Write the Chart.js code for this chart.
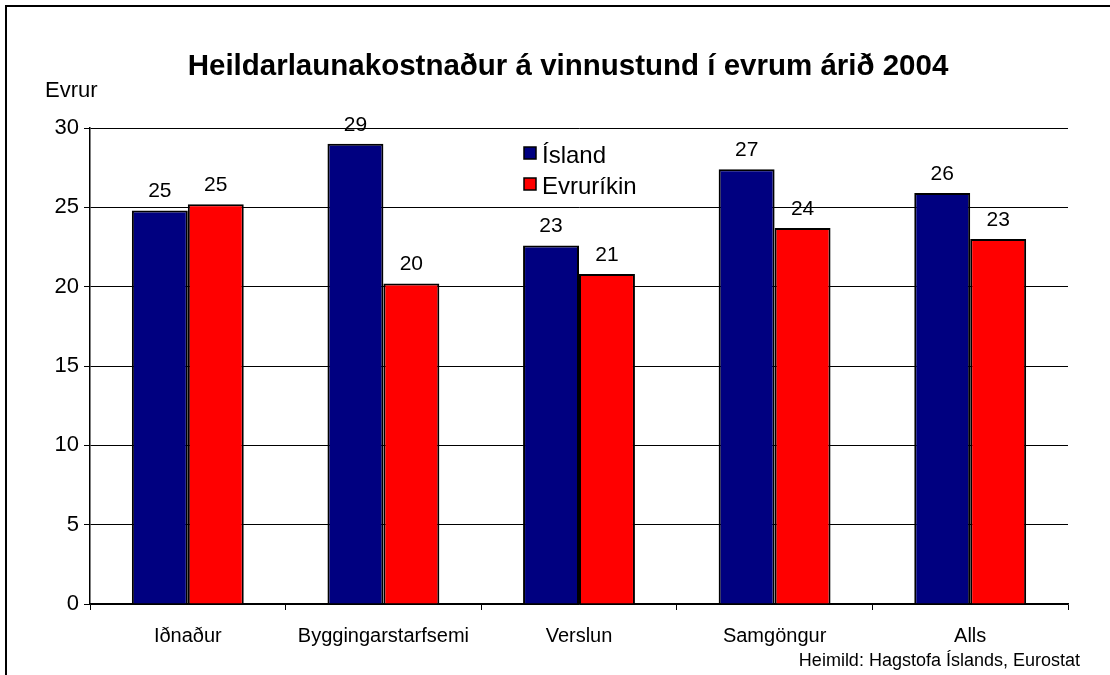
<!DOCTYPE html>
<html>
<head>
<meta charset="utf-8">
<script src="https://cdn.jsdelivr.net/npm/chart.js@4.4.0/dist/chart.umd.min.js"></script>
<style>
  html, body { margin: 0; padding: 0; background: #fff; }
  #wrap { position: relative; width: 1110px; height: 675px; }
  #frame { position: absolute; left: 5px; top: 5px; right: -10px; bottom: -10px; border-left: 2px solid #000; border-top: 2px solid #000; }
  canvas { position: absolute; left: 0; top: 0; }
</style>
</head>
<body>
<div id="wrap">
  <div id="frame"></div>
  <canvas id="c" width="1110" height="675"></canvas>
</div>
<script>
const categories = ["Iðnaður", "Byggingarstarfsemi", "Verslun", "Samgöngur", "Alls"];
const islandValues = [24.8, 29.0, 22.6, 27.4, 25.9];
const evruValues = [25.2, 20.2, 20.8, 23.7, 23.0];
const seriesNames = ["Ísland", "Evruríkin"];
const yTicks = [0, 5, 10, 15, 20, 25, 30];
const titleText = "Heildarlaunakostnaður á vinnustund í evrum árið 2004";
const yAxisLabel = "Evrur";
const sourceText = "Heimild: Hagstofa Íslands, Eurostat";

const FONT = "'Liberation Sans', Arial, sans-serif";

const extrasPlugin = {
  id: 'extras',
  afterDatasetsDraw(chart) {
    const ctx = chart.ctx;
    ctx.save();
    ctx.fillStyle = '#000';
    ctx.font = '21px ' + FONT;
    ctx.textAlign = 'center';
    ctx.textBaseline = 'middle';
    chart.data.datasets.forEach((ds, di) => {
      const meta = chart.getDatasetMeta(di);
      meta.data.forEach((el, i) => {
        ctx.fillText(String(Math.round(ds.data[i])), el.x, el.y - 19);
      });
    });
    ctx.restore();
  },
  afterDraw(chart) {
    const ctx = chart.ctx;
    ctx.save();
    ctx.fillStyle = '#000';
    // title
    ctx.font = 'bold 29.5px ' + FONT;
    ctx.textAlign = 'center';
    ctx.textBaseline = 'middle';
    ctx.fillText(titleText, 568, 67);
    // y axis unit
    ctx.font = '22px ' + FONT;
    ctx.textAlign = 'left';
    ctx.fillText(yAxisLabel, 45, 91);
    // source
    ctx.font = '18px ' + FONT;
    ctx.textAlign = 'right';
    ctx.fillText(sourceText, 1080, 661);
    // legend
    const lx = 524, ly = [147, 178];
    chart.data.datasets.forEach((ds, di) => {
      ctx.fillStyle = ds.backgroundColor;
      ctx.fillRect(lx, ly[di], 12, 12);
      ctx.strokeStyle = '#000';
      ctx.lineWidth = 1.5;
      ctx.strokeRect(lx, ly[di], 12, 12);
      ctx.fillStyle = '#000';
      ctx.font = '24px ' + FONT;
      ctx.textAlign = 'left';
      ctx.textBaseline = 'middle';
      ctx.fillText(ds.label, lx + 18, ly[di] + 9);
    });
    ctx.restore();
  }
};

new Chart(document.getElementById('c'), {
  type: 'bar',
  data: {
    labels: categories,
    datasets: [
      { label: seriesNames[0], data: islandValues, backgroundColor: '#000080', borderColor: '#000', borderWidth: 2, borderSkipped: 'bottom' },
      { label: seriesNames[1], data: evruValues, backgroundColor: '#ff0000', borderColor: '#000', borderWidth: 2, borderSkipped: 'bottom' }
    ]
  },
  options: {
    responsive: false,
    animation: false,
    devicePixelRatio: 1,
    layout: { padding: { top: 128, right: 42, left: 0, bottom: 0 } },
    plugins: { legend: { display: false }, title: { display: false }, tooltip: { enabled: false } },
    datasets: { bar: { categoryPercentage: 0.572, barPercentage: 1.0 } },
    scales: {
      x: {
        grid: { display: true, offset: true, drawOnChartArea: false, drawTicks: true, tickLength: 6, color: '#000', lineWidth: 1 },
        border: { display: true, color: '#000', width: 1.5 },
        ticks: { color: '#000', font: { family: FONT, size: 20 }, padding: 14, maxRotation: 0, autoSkip: false },
        afterFit(scale) { scale.height = 71; }
      },
      y: {
        min: 0, max: 30,
        afterBuildTicks(scale) { scale.ticks = yTicks.map(v => ({ value: v })); },
        grid: { display: true, drawOnChartArea: true, drawTicks: true, tickLength: 6, color: '#000', lineWidth: 1 },
        border: { display: true, color: '#000', width: 1.5 },
        ticks: { color: '#000', font: { family: FONT, size: 22 }, padding: 5 },
        afterFit(scale) { scale.width = 90; }
      }
    }
  },
  plugins: [extrasPlugin]
});
</script>
</body>
</html>
